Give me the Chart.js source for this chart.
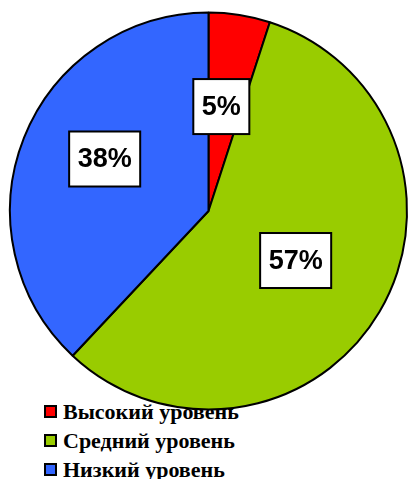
<!DOCTYPE html>
<html>
<head>
<meta charset="utf-8">
<script src="https://cdn.jsdelivr.net/npm/chart.js@4/dist/chart.umd.min.js"></script>
<style>
  html, body { margin: 0; padding: 0; background: #ffffff; }
  #wrap { position: relative; width: 410px; height: 479px; overflow: hidden; }
  #legend { position: absolute; left: 0; top: 0; width: 410px; height: 479px; z-index: 0;
    font-family: "Liberation Serif", "Times New Roman", serif; font-weight: bold; font-size: 22px; color: #000; }
  .item { position: absolute; left: 44px; height: 29px; display: flex; align-items: center; white-space: nowrap; }
  .mk { width: 9px; height: 9px; border: 2px solid #000; margin-right: 6px; }
  #c { position: absolute; left: 0; top: 0; z-index: 1; }
</style>
</head>
<body>
<div id="wrap">
  <div id="legend"></div>
  <canvas id="c" width="410" height="479"></canvas>
</div>
<script>
const categories = ["Высокий уровень", "Средний уровень", "Низкий уровень"];
const values = [5, 57, 38];
const valueLabels = ["5%", "57%", "38%"];
const colors = ["#FF0000", "#99CC00", "#3366FF"];

// HTML legend (drawn beneath the pie, like the reference)
const legendEl = document.getElementById('legend');
const legendTops = [397, 426, 455];
categories.forEach((name, i) => {
  const d = document.createElement('div');
  d.className = 'item';
  d.style.top = legendTops[i] + 'px';
  const m = document.createElement('span');
  m.className = 'mk';
  m.style.background = colors[i];
  const t = document.createElement('span');
  t.textContent = name;
  d.appendChild(m); d.appendChild(t);
  legendEl.appendChild(d);
});

const boxLabels = {
  id: 'boxLabels',
  afterDatasetsDraw(chart, args, opts) {
    const ctx = chart.ctx;
    const meta = chart.getDatasetMeta(0);
    ctx.save();
    ctx.font = 'bold 27px "Liberation Sans", Arial, sans-serif';
    ctx.textAlign = 'center';
    ctx.textBaseline = 'middle';
    meta.data.forEach((arc, i) => {
      const p = arc.getProps(['x', 'y', 'startAngle', 'endAngle', 'outerRadius'], true);
      const mid = (p.startAngle + p.endAngle) / 2 + opts.shifts[i] * Math.PI / 180;
      const r = p.outerRadius * opts.factors[i];
      const cx = p.x + Math.cos(mid) * r;
      const cy = p.y + Math.sin(mid) * r;
      const txt = valueLabels[i];
      const w = ctx.measureText(txt).width + 17;
      const h = 55;
      ctx.fillStyle = '#ffffff';
      ctx.fillRect(cx - w / 2, cy - h / 2, w, h);
      ctx.lineWidth = 2;
      ctx.strokeStyle = '#000000';
      ctx.strokeRect(cx - w / 2, cy - h / 2, w, h);
      ctx.fillStyle = '#000000';
      ctx.fillText(txt, cx, cy + 1);
    });
    ctx.restore();
  }
};

new Chart(document.getElementById('c'), {
  type: 'pie',
  data: {
    labels: categories,
    datasets: [{
      data: values,
      backgroundColor: colors,
      borderColor: '#000000',
      borderWidth: 2,
      hoverOffset: 0
    }]
  },
  options: {
    responsive: false,
    animation: false,
    layout: { padding: { left: 9, right: 2, top: 11, bottom: 68 } },
    plugins: {
      legend: { display: false },
      tooltip: { enabled: false },
      boxLabels: { factors: [0.53, 0.505, 0.585], shifts: [-2, -1, 5] }
    }
  },
  plugins: [boxLabels]
});
</script>
</body>
</html>
